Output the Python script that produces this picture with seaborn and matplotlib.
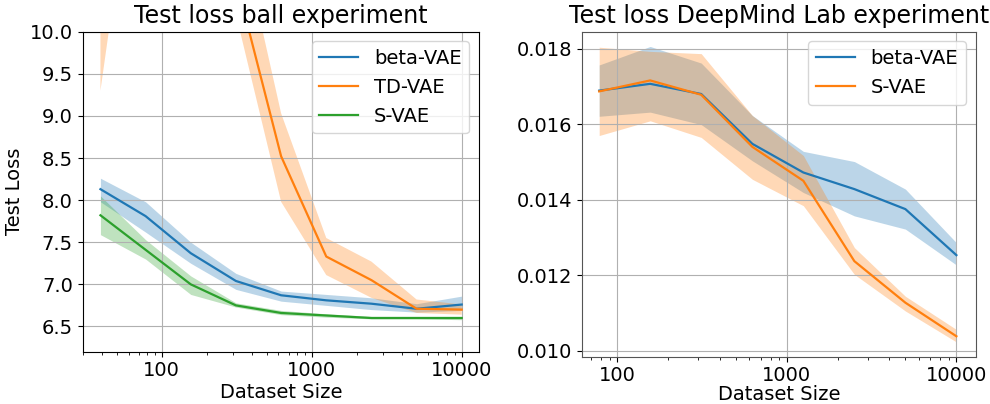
import numpy as np
import matplotlib
matplotlib.use("Agg")
import matplotlib.pyplot as plt
import seaborn as sns
from matplotlib.ticker import ScalarFormatter, FormatStrFormatter

# ball experiment (left panel)
sizes_ball = [39, 78, 156, 312, 625, 1250, 2500, 5000, 10000]

beta_ball = [8.13, 7.81, 7.37, 7.04, 6.87, 6.81, 6.77, 6.71, 6.76]
beta_ball_lo = [7.98, 7.62, 7.25, 6.94, 6.80, 6.75, 6.70, 6.67, 6.69]
beta_ball_hi = [8.26, 7.98, 7.50, 7.13, 6.92, 6.88, 6.84, 6.77, 6.86]

td_ball = [13.0, 15.5, 13.0, 10.62, 8.52, 7.33, 7.05, 6.71, 6.70]
td_ball_lo = [9.3, 13.1, 11.5, 10.21, 7.98, 7.11, 6.84, 6.66, 6.64]
td_ball_hi = [16.7, 17.9, 14.5, 11.42, 9.03, 7.55, 7.27, 6.82, 6.76]

s_ball = [7.82, 7.41, 7.00, 6.75, 6.66, 6.63, 6.60, 6.60, 6.60]
s_ball_lo = [7.59, 7.30, 6.88, 6.73, 6.64, 6.61, 6.59, 6.59, 6.58]
s_ball_hi = [8.05, 7.53, 7.10, 6.78, 6.69, 6.65, 6.62, 6.62, 6.62]

# DeepMind Lab experiment (right panel)
sizes_dm = [78, 156, 312, 625, 1250, 2500, 5000, 10000]

beta_dm = [0.01689, 0.01707, 0.01680, 0.01548, 0.01472, 0.01428, 0.01375, 0.01253]
beta_dm_lo = [0.01621, 0.01632, 0.01599, 0.01503, 0.01419, 0.01357, 0.01322, 0.01227]
beta_dm_hi = [0.01757, 0.01806, 0.01762, 0.01623, 0.01528, 0.01501, 0.01428, 0.01286]

s_dm = [0.01687, 0.01716, 0.01678, 0.01540, 0.01450, 0.01237, 0.01127, 0.01038]
s_dm_lo = [0.01570, 0.01609, 0.01565, 0.01454, 0.01384, 0.01202, 0.01105, 0.01023]
s_dm_hi = [0.01804, 0.01793, 0.01787, 0.01623, 0.01517, 0.01273, 0.01144, 0.01056]

BLUE, ORANGE, GREEN = "#1f77b4", "#ff7f0e", "#2ca02c"

plt.rcParams["font.family"] = ["DejaVu Sans"]
plt.rcParams["font.size"] = 14


def draw(ax, x, mean, lo, hi, color, label):
    ax.fill_between(x, lo, hi, color=color, alpha=0.3, linewidth=0)
    sns.lineplot(x=x, y=mean, ax=ax, color=color, label=label, linewidth=1.6)


fig = plt.figure(figsize=(9.9, 4.04), dpi=100)
W, H = 990.0, 404.0
ax1 = fig.add_axes([82.7 / W, 1 - 351.7 / H, (479 - 82.7) / W, (351.7 - 31.7) / H])
ax2 = fig.add_axes([582.3 / W, 1 - 356.7 / H, (975.7 - 582.3) / W, (356.7 - 31.7) / H])

draw(ax1, sizes_ball, beta_ball, beta_ball_lo, beta_ball_hi, BLUE, "beta-VAE")
draw(ax1, sizes_ball, td_ball, td_ball_lo, td_ball_hi, ORANGE, "TD-VAE")
draw(ax1, sizes_ball, s_ball, s_ball_lo, s_ball_hi, GREEN, "S-VAE")

draw(ax2, sizes_dm, beta_dm, beta_dm_lo, beta_dm_hi, BLUE, "beta-VAE")
draw(ax2, sizes_dm, s_dm, s_dm_lo, s_dm_hi, ORANGE, "S-VAE")

for ax in (ax1, ax2):
    ax.set_xscale("log")
    ax.xaxis.set_major_formatter(ScalarFormatter())
    ax.grid(True, which="major", color="#b0b0b0", linewidth=0.8)
    ax.tick_params(labelsize=14)
    ax.legend(loc="upper right", fontsize=14, framealpha=0.8)

ax1.set_xlabel("Dataset Size", fontsize=14, labelpad=2)
ax2.set_xlabel("Dataset Size", fontsize=14, labelpad=0)

ax1.set_xlim(29.7, 13040)
ax1.set_ylim(6.2, 10.0)
ax1.set_yticks(np.arange(6.5, 10.01, 0.5))
ax1.yaxis.set_major_formatter(FormatStrFormatter("%.1f"))
ax1.set_ylabel("Test Loss", fontsize=14)
ax1.set_title("Test loss ball experiment", fontsize=17)

ax2.set_xlim(62, 13000)
ax2.set_yticks(np.arange(0.010, 0.0181, 0.002))
ax2.yaxis.set_major_formatter(FormatStrFormatter("%.3f"))
ax2.set_ylabel("")
ax2.set_title("Test loss DeepMind Lab experiment", fontsize=17)
for sp in ax2.spines.values():
    sp.set_color("#555555")

fig.savefig("out.png", dpi=100)
